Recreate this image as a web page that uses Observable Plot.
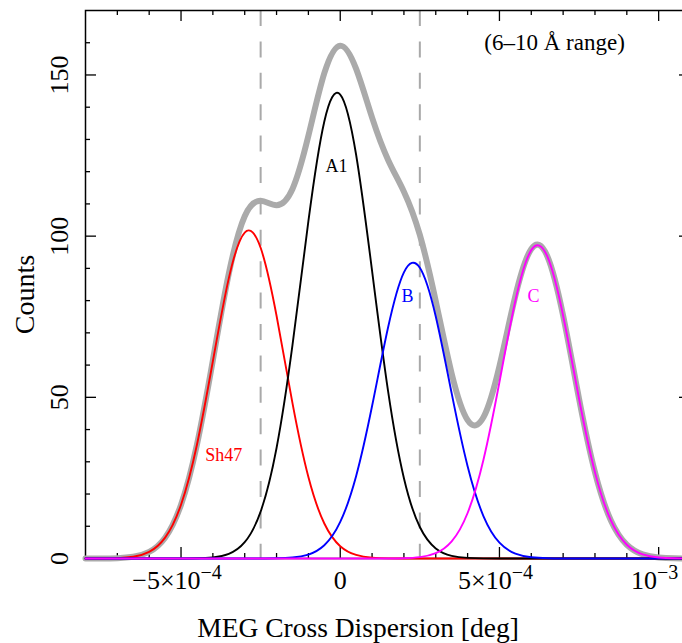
<!DOCTYPE html>
<html><head><meta charset="utf-8">
<script src="https://cdn.jsdelivr.net/npm/d3@7"></script>
<script src="https://cdn.jsdelivr.net/npm/@observablehq/plot@0.6"></script>
<style>
html,body{margin:0;padding:0;background:#fff;overflow:hidden}
#chart{width:682px;height:643px;overflow:hidden;position:relative}
#chart svg{max-width:none !important;height:643px !important;width:690px !important}
</style></head><body><div id="chart"></div>
<script>
// MEG cross-dispersion positions (units of 1e-4 deg)
const xPos = [-8.0,-7.5,-7.0,-6.5,-6.0,-5.5,-5.0,-4.5,-4.0,-3.5,-3.0,-2.5,-2.0,-1.5,-1.0,-0.5,0.0,0.5,1.0,1.5,2.0,2.5,3.0,3.5,4.0,4.5,5.0,5.5,6.0,6.5,7.0,7.5,8.0,8.5,9.0,9.5,10.0,10.5,11.0];
// total counts (grey) and fitted components
const totalCounts = [0,0.02,0.11,0.53,2.05,6.46,16.70,35.36,61.53,88.35,106.18,110.95,109.62,114.64,131.12,150.54,159.10,151.88,136.76,123.72,113.78,100.37,79.87,57.35,42.92,43.85,59.66,81.46,96.04,93.85,75.32,49.56,26.72,11.80,4.27,1.27,0.31,0.06,0.01];
const sh47 = [0,0.02,0.11,0.53,2.05,6.46,16.69,35.30,61.19,86.91,101.12,96.39,75.29,48.18,25.26,10.85,3.82,1.10,0.26,0.05,0.01,0,0,0,0,0,0,0,0,0,0,0,0,0,0,0,0,0,0];
const a1 = [0,0,0,0,0,0,0.01,0.06,0.34,1.44,5.06,14.55,34.27,66.16,104.63,135.57,143.93,125.18,89.21,52.08,24.91,9.76,3.14,0.82,0.18,0.03,0,0,0,0,0,0,0,0,0,0,0,0,0];
const compB = [0,0,0,0,0,0,0,0,0,0,0,0.01,0.06,0.30,1.23,4.12,11.35,25.60,47.29,71.58,88.77,90.20,75.09,51.21,28.62,13.10,4.91,1.51,0.38,0.08,0.01,0,0,0,0,0,0,0,0];
const compC = [0,0,0,0,0,0,0,0,0,0,0,0,0,0,0,0,0,0,0,0.01,0.09,0.41,1.64,5.32,14.12,30.72,54.75,79.95,95.66,93.77,75.31,49.56,26.72,11.80,4.27,1.27,0.31,0.06,0.01];

const dashPositions = [-2.5e-4, 2.5e-4];
const xMajorTicks = [-5e-4, 0, 5e-4, 1e-3];
const xTickLabels = ["−5×10^−4", "0", "5×10^−4", "10^−3"];
const xMinorTicks = [-7e-4,-6e-4,-4e-4,-3e-4,-2e-4,-1e-4,1e-4,2e-4,3e-4,4e-4,6e-4,7e-4,8e-4,9e-4];
const yMajorTicks = [0, 50, 100, 150];
const yTickLabels = ["0", "50", "100", "150"];
const yMinorTicks = [10,20,30,40,60,70,80,90,110,120,130,140,160];

const labelTexts = ["A1", "B", "C", "Sh47", "(6–10 Å range)"];
const labelX = [-0.12e-4, 2.11e-4, 6.07e-4, -3.66e-4, 6.73e-4];
const labelY = [121.6, 81.3, 81.3, 32.0, 160.1];
const labelColors = ["black", "#0000ff", "#ff00ff", "#ff0000", "black"];
const labelSizes = [18, 18, 18, 18, 23];

const rows = xPos.map((x, i) => ({x: x * 1e-4, total: totalCounts[i], Sh47: sh47[i], A1: a1[i], B: compB[i], C: compC[i]}));
const labels = labelTexts.map((t, i) => ({t, x: labelX[i], y: labelY[i], c: labelColors[i], s: labelSizes[i]}));

const W = 690, H = 643, mt = 10, mb = 85, ml = 85, mr = 0;
const ph = H - mt - mb, pw = W - ml - mr;
const major = 11, minor = 5;
const serif = '"Liberation Serif", "Times New Roman", Times, serif';

const chart = Plot.plot({
  width: W, height: H,
  marginTop: mt, marginBottom: mb, marginLeft: ml, marginRight: mr,
  style: {fontFamily: serif, background: "white", overflow: "visible", maxWidth: "none"},
  x: {domain: [-8e-4, 1.1e-3], axis: null},
  y: {domain: [0, 170], axis: null},
  marks: [
    Plot.ruleX(dashPositions, {x: d => d, stroke: "#a9a9a9", strokeWidth: 2, strokeDasharray: "16,15.4"}),
    Plot.frame({stroke: "black", strokeWidth: 1.5}),
    // bottom ticks
    Plot.tickX(xMinorTicks, {x: d => d, insetTop: ph - minor, stroke: "black", strokeWidth: 1.3}),
    Plot.tickX(xMajorTicks, {x: d => d, insetTop: ph - major, stroke: "black", strokeWidth: 1.3}),
    // top ticks
    Plot.tickX(xMinorTicks, {x: d => d, insetBottom: ph - minor, stroke: "black", strokeWidth: 1.3}),
    Plot.tickX(xMajorTicks, {x: d => d, insetBottom: ph - major, stroke: "black", strokeWidth: 1.3}),
    // left ticks
    Plot.tickY(yMinorTicks, {y: d => d, insetRight: pw - minor, stroke: "black", strokeWidth: 1.3}),
    Plot.tickY(yMajorTicks, {y: d => d, insetRight: pw - major, stroke: "black", strokeWidth: 1.3}),
    // right ticks
    Plot.tickY(yMinorTicks, {y: d => d, insetLeft: pw - minor, stroke: "black", strokeWidth: 1.3}),
    Plot.tickY(yMajorTicks, {y: d => d, insetLeft: pw - major, stroke: "black", strokeWidth: 1.3}),
    // curves
    Plot.line(rows, {x: "x", y: "total", curve: "natural", stroke: "#aaaaaa", strokeWidth: 6}),
    Plot.line(rows, {x: "x", y: "Sh47", curve: "natural", stroke: "#ff0000", strokeWidth: 1.9}),
    Plot.line(rows, {x: "x", y: "A1", curve: "natural", stroke: "#000000", strokeWidth: 1.9}),
    Plot.line(rows, {x: "x", y: "B", curve: "natural", stroke: "#0000ff", strokeWidth: 1.9}),
    Plot.line(rows, {x: "x", y: "C", curve: "natural", stroke: "#ff00ff", strokeWidth: 1.9}),
    // annotations
    Plot.text(labels, {x: "x", y: "y", text: "t", fill: "c", fontSize: "s", lineAnchor: "middle", textAnchor: "middle"}),
    // tick labels
    Plot.text(xMajorTicks, {x: d => d, frameAnchor: "bottom", dy: 30, text: (d, i) => xTickLabels[i], fontSize: 26, lineAnchor: "bottom", textAnchor: "middle", fill: "black"}),
    Plot.text(yMajorTicks, {y: d => d, frameAnchor: "left", dx: -18, rotate: -90, text: (d, i) => yTickLabels[i], fontSize: 26, lineAnchor: "bottom", textAnchor: "middle", fill: "black"}),
    // axis titles
    Plot.text(["MEG Cross Dispersion [deg]"], {text: d => d, frameAnchor: "bottom", dx: -30, dy: 78, fontSize: 27.5, lineAnchor: "bottom", textAnchor: "middle", fill: "black"}),
    Plot.text(["Counts"], {text: d => d, frameAnchor: "left", dx: -52, dy: 10, rotate: -90, fontSize: 28, lineAnchor: "bottom", textAnchor: "middle", fill: "black"})
  ]
});

// superscript exponents in tick labels
d3.select(chart).selectAll("text").each(function() {
  const s = this.textContent;
  if (s.indexOf("^") < 0) return;
  const [base, sup] = s.split("^");
  const t = d3.select(this);
  t.selectAll("*").remove();
  t.text(null);
  t.append("tspan").attr("dx", -4).text(base);
  t.append("tspan").attr("dy", -10).attr("font-size", 20).text(sup);
});

chart.style.maxWidth = "none";
document.getElementById("chart").appendChild(chart);
</script></body></html>
